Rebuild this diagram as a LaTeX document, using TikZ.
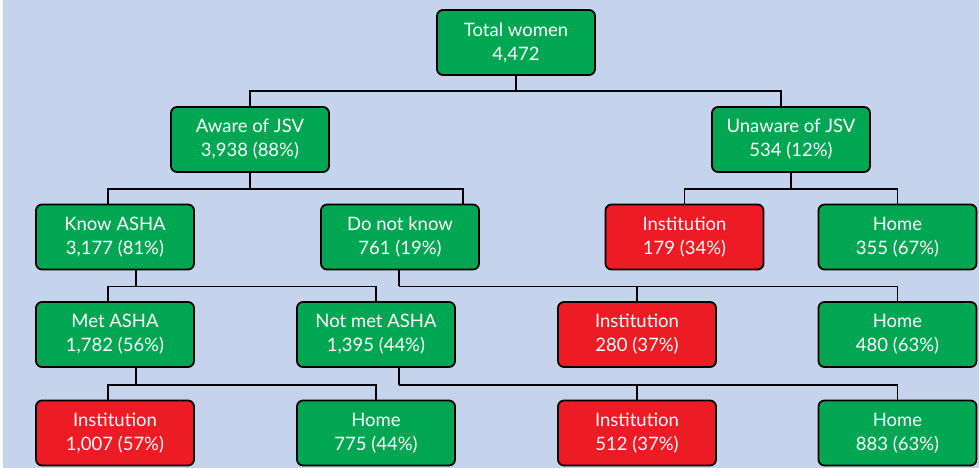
\documentclass[tikz,border=0pt]{standalone}
\usepackage{fontspec}
\setmainfont{Lato}
\definecolor{boxgreen}{HTML}{00A651}
\definecolor{boxred}{HTML}{ED1C24}
\definecolor{backblue}{HTML}{C6D3EC}
\begin{document}
\begin{tikzpicture}[x=1pt,y=-1pt,
  box/.style={draw=black,line width=1.8pt,rounded corners=6pt,minimum width=158pt,
    minimum height=65pt,text=white,align=center,font=\fontsize{18.5}{24}\selectfont},
  greenbox/.style={box,fill=boxgreen},
  redbox/.style={box,fill=boxred},
  link/.style={line width=1.6pt}]
  \useasboundingbox (0,0) rectangle (979,468);
  \fill[backblue] (3,0) rectangle (979,468);
  \node[greenbox] (total) at (516,42.5) {Total women\\4,472};
  \node[greenbox] (aware) at (250,139.5) {Aware of JSV\\3,938 (88\%)};
  \node[greenbox] (unaware) at (791,139.5) {Unaware of JSV\\534 (12\%)};
  \node[greenbox] (know) at (115,237) {Know ASHA\\3,177 (81\%)};
  \node[greenbox] (notknow) at (400,237) {Do not know\\761 (19\%)};
  \node[redbox] (unawareinst) at (684.5,237) {Institution\\179 (34\%)};
  \node[greenbox] (unawarehome) at (897.5,237) {Home\\355 (67\%)};
  \node[greenbox] (met) at (115,334.5) {Met ASHA\\1,782 (56\%)};
  \node[greenbox] (notmet) at (376,334.5) {Not met ASHA\\1,395 (44\%)};
  \node[redbox] (notknowinst) at (637,334.5) {Institution\\280 (37\%)};
  \node[greenbox] (notknowhome) at (897.5,334.5) {Home\\480 (63\%)};
  \node[redbox] (metinst) at (115,433) {Institution\\1,007 (57\%)};
  \node[greenbox] (methome) at (376,433) {Home\\775 (44\%)};
  \node[redbox] (notmetinst) at (637,433) {Institution\\512 (37\%)};
  \node[greenbox] (notmethome) at (897.5,433) {Home\\883 (63\%)};
  \draw[link] (total.south) -- ++(0,15) coordinate (fork1);
  \draw[link] (aware.north) |- (fork1) -| ([xshift=-10pt]unaware.north);
  \draw[link] (aware.south) -- ++(0,16) coordinate (fork2);
  \draw[link] ([xshift=-7pt]know.north) |- (fork2) -| ([xshift=63pt]notknow.north);
  \draw[link] (unaware.south) -- ++(0,16) coordinate (fork3);
  \draw[link] (unawareinst.north) |- (fork3) -| (unawarehome.north);
  \draw[link] ([xshift=21pt]know.south) -- ++(0,16) coordinate (fork4);
  \draw[link] ([xshift=-7pt]met.north) |- (fork4) -| (notmet.north);
  \draw[link] ([xshift=-1pt]notknow.south) -- ++(0,16) coordinate (fork5);
  \draw[link] (fork5) -| (notknowhome.north) (fork5 -| notknowinst.north) -- (notknowinst.north);
  \draw[link] ([xshift=21pt]met.south) -- ++(0,17) coordinate (fork6);
  \draw[link] ([xshift=-7pt]metinst.north) |- (fork6) -| (methome.north);
  \draw[link] ([xshift=23pt]notmet.south) -- ++(0,17) coordinate (fork7);
  \draw[link] (fork7) -| (notmethome.north) (fork7 -| notmetinst.north) -- (notmetinst.north);
\end{tikzpicture}
\end{document}
